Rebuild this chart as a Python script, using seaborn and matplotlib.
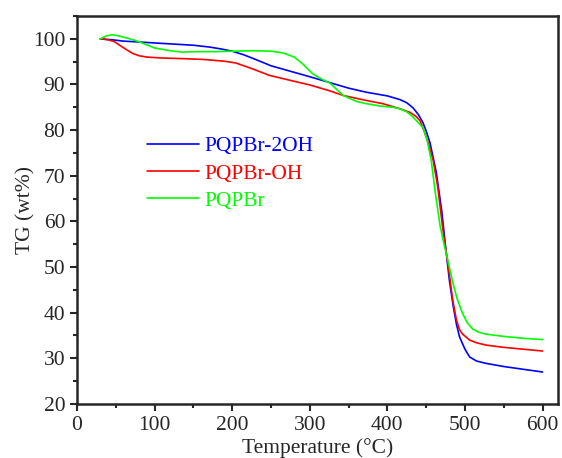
import numpy as np
import pandas as pd
import matplotlib
matplotlib.use('Agg')
import matplotlib.pyplot as plt
from matplotlib.ticker import MultipleLocator
import seaborn as sns

# readings taken off the TG curves
temp_2oh = [30, 45, 60, 81, 100, 120, 150, 171, 185, 200, 215, 230, 250, 275, 300, 326, 350,
            373, 400, 416, 425, 433, 440, 446, 450, 455, 463, 470, 475, 480, 485, 489, 493,
            500, 506, 515, 527, 550, 575, 600]
tg_2oh = [100, 99.8, 99.5, 99.3, 99.1, 98.9, 98.6, 98.2, 97.8, 97.3, 96.5, 95.5, 94.1, 92.9,
          91.7, 90.4, 89.2, 88.3, 87.5, 86.7, 86.0, 84.9, 83.4, 81.6, 79.8, 77.2, 70.8, 62.4,
          54.5, 47.0, 41.3, 37.5, 34.7, 32.0, 30.3, 29.4, 28.9, 28.2, 27.6, 27.0]

temp_oh = [30, 40, 48, 55, 65, 72, 80, 90, 110, 130, 162, 190, 205, 225, 248, 275, 300, 326,
           343, 370, 394, 416, 429, 437, 442, 448, 453, 459, 465, 471.6, 478, 484, 489, 493,
           497, 506, 515, 527, 550, 575, 600]
tg_oh = [100, 99.8, 99.4, 98.6, 97.5, 96.8, 96.3, 96.0, 95.8, 95.7, 95.5, 95.1, 94.7, 93.5,
         92.0, 90.9, 89.9, 88.6, 87.6, 86.6, 85.8, 84.7, 83.9, 83.0, 82.1, 79.5, 77.0, 73.4,
         67.5, 58.1, 50.8, 43.0, 38.4, 36.3, 35.3, 34.0, 33.4, 32.9, 32.4, 32.0, 31.6]

temp_br = [30, 37, 45, 55, 68, 81, 100, 120, 135, 158, 180, 200, 227, 250, 266, 280, 291, 304,
           315, 326, 343, 360, 373, 390, 407, 416, 425, 433, 440, 446, 451, 456.5, 462, 468,
           473, 477, 484, 490, 497, 503, 510, 518, 527, 550, 575, 600]
tg_br = [100, 100.6, 100.9, 100.6, 100.0, 99.3, 98.0, 97.4, 97.1, 97.2, 97.2, 97.3, 97.4, 97.3,
         96.9, 96.0, 94.5, 92.3, 91.2, 90.3, 87.6, 86.3, 85.8, 85.3, 85.0, 84.7, 84.0, 82.9,
         81.6, 80.5, 78.0, 73.4, 66.0, 59.0, 55.0, 52.2, 46.8, 43.0, 39.8, 37.8, 36.4, 35.7,
         35.3, 34.8, 34.4, 34.1]

names = ['PQPBr-2OH', 'PQPBr-OH', 'PQPBr']
colors = ['#0000FF', '#FF0000', '#00FF00']

df = pd.concat([
    pd.DataFrame({'T': temp_2oh, 'TG': tg_2oh, 'sample': names[0]}),
    pd.DataFrame({'T': temp_oh, 'TG': tg_oh, 'sample': names[1]}),
    pd.DataFrame({'T': temp_br, 'TG': tg_br, 'sample': names[2]}),
])

sns.set_style('ticks')
plt.rcParams['font.family'] = ['Liberation Serif', 'DejaVu Serif']

fig = plt.figure(figsize=(5.62, 4.58), dpi=100)
ax = fig.add_axes([0.137, 0.118, 0.856, 0.847])

sns.lineplot(data=df, x='T', y='TG', hue='sample', palette=dict(zip(names, colors)),
             sort=False, linewidth=1.2, ax=ax)

ax.set_xlim(0, 620)
ax.set_ylim(20, 105)
ax.xaxis.set_major_locator(MultipleLocator(100))
ax.xaxis.set_minor_locator(MultipleLocator(50))
ax.yaxis.set_major_locator(MultipleLocator(10))
ax.yaxis.set_minor_locator(MultipleLocator(5))
ax.tick_params(which='major', direction='out', length=5, width=1.5, labelsize=15.5, pad=3.5)
ax.tick_params(which='minor', direction='out', length=3, width=1.5)
for s in ax.spines.values():
    s.set_linewidth(1.8)
    s.set_visible(True)

ax.set_xlabel('Temperature (°C)', fontsize=15.5, labelpad=2.5)
ax.set_ylabel('TG (wt%)', fontsize=15.5, labelpad=-2)

leg = ax.legend(loc='upper left', bbox_to_anchor=(0.146, 0.69), frameon=False, fontsize=15.5,
                handlelength=2.42, handletextpad=0.25, labelspacing=0.33, borderpad=0,
                borderaxespad=0)
for txt, c in zip(leg.get_texts(), colors):
    txt.set_color(c)

fig.savefig('out.png', dpi=100)
